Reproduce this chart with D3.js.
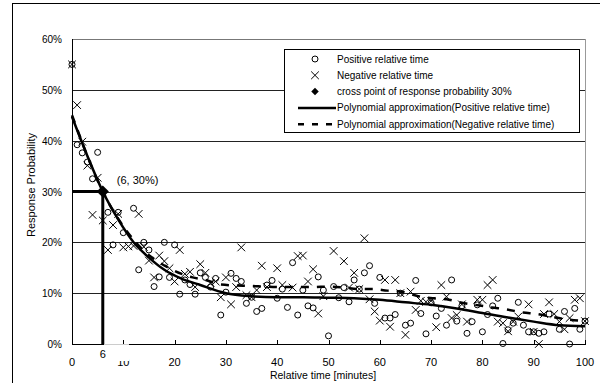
<!DOCTYPE html>
<html>
<head>
<meta charset="utf-8">
<script src="https://cdn.jsdelivr.net/npm/d3@7"></script>
<style>
  body { margin: 0; background: #fff; }
  svg { display: block; font-family: "Liberation Sans", Arial, sans-serif; }
</style>
</head>
<body>
<svg width="600" height="383"></svg>
<script>
// positive relative time (circles): [minutes, %]
let positivos = [
  [0,55],[1,39.2],[2,37.6],[3,35.8],[4,32.5],[5,37.7],[7,25.9],[8,19.5],[9,25.9],[10,21.9],
  [12,26.7],[13,14.6],[14,20.0],[15,18.5],[16,11.3],[17,13.2],[18,20.0],[19,13.1],[20,19.5],
  [21,9.8],[22,12.6],[23,11.7],[24,9.8],[25,14.0],[26,13.1],[27,11.2],[28,12.9],[29,5.7],
  [30,10.2],[31,13.9],[32,12.9],[33,12.3],[34,8.0],[35,9.2],[36,6.4],[37,7.0],[38,11.6],
  [39,12.5],[40,9.0],[41,10.8],[42,7.2],[43,16.0],[44,5.7],[45,10.6],[46,7.5],[47,7.1],
  [48,13.2],[49,10.6],[50,1.6],[51,11.3],[52,9.1],[53,11.1],[54,8.3],[55,12.6],[56,10.8],
  [57,14.0],[58,15.4],[59,8.0],[60,13.1],[61,5.1],[62,5.1],[63,5.8],[64,10.0],[65,3.7],
  [66,4.1],[67,12.5],[68,6.0],[69,2.0],[70,8.1],[71,5.5],[72,7.0],[73,3.7],[74,12.6],
  [75,4.5],[76,7.5],[77,2.1],[78,4.4],[79,7.7],[80,2.4],[81,5.8],[82,7.5],[83,9.0],[84,0.1],
  [85,2.8],[86,4.1],[87,8.2],[88,3.7],[89,2.4],[90,2.4],[91,2.1],[92,2.4],[93,5.9],[95,2.9],
  [96,6.4],[97,0],[98,7.0],[99,2.9],[100,4.5]
];

// negative relative time (crosses)
let negativos = [
  [0,55],[1,47],[2,39.8],[3,35.1],[4,25.4],[5,32.7],[6,24.3],[7,18.5],[8,23.4],[9,25.6],
  [10,19.0],[11,19.2],[12,19.3],[13,25.6],[14,19.1],[15,16.4],[16,13.1],[17,17.4],[18,16.3],
  [19,14.9],[20,12.3],[21,18.5],[22,13.8],[23,14.2],[24,11.2],[25,15.7],[26,14.0],[27,12.0],
  [28,12.3],[29,9.2],[30,13.1],[31,7.8],[32,11.2],[33,19.0],[34,9.6],[35,9.2],[36,10.6],
  [37,15.4],[38,11.2],[40,14.9],[41,11.6],[43,11.1],[44,17.3],[45,17.4],[46,12.3],[47,14.7],
  [48,6.0],[49,9.4],[51,18.3],[53,16.3],[54,11.1],[55,14.0],[56,10.8],[57,20.8],[58,8.8],
  [59,6.4],[60,4.6],[61,12.6],[62,3.4],[63,12.6],[64,10.0],[65,1.8],[66,10.3],[67,6.7],
  [68,8.5],[69,8.3],[70,8.5],[71,3.3],[72,11.6],[73,9.3],[74,5.1],[75,5.7],[76,7.8],[77,4.4],
  [79,8.7],[80,8.7],[81,11.6],[82,12.6],[83,4.4],[84,4.1],[85,2.5],[86,4.4],[87,5.4],[89,7.8],
  [90,2.4],[91,0],[92,5.9],[93,8.2],[94,5.9],[95,4.4],[96,2.9],[97,5.1],[98,8.7],[99,9.0],[100,4.5]
];

// polynomial approximations
let aprox_pos = [
  [0,44.7],[3,37],[6,30],[9,24.5],[12,20],[15,17],[18,14.6],[21,13],[25,11.6],[30,10],
  [35,9.4],[40,9.2],[45,9.2],[50,9.1],[55,9.0],[60,8.7],[65,8.2],[70,7.7],[75,7.0],
  [80,6.1],[85,5.2],[90,4.4],[95,3.7],[100,3.5]
];
let aprox_neg = [
  [0,45],[6,30],[12,20.5],[20,14.4],[23.5,13.1],[26,12.6],[29,11.7],[35,11.4],[41,11.2],
  [47,11.2],[50,11.3],[53,11.1],[56,10.8],[58.6,10.8],[61.5,10.5],[64.3,10.3],[67.5,9.4],
  [70.4,9.0],[73,8.8],[76,8.1],[78.6,7.7],[81.8,7.2],[84.7,6.8],[87.9,6.2],[90.7,5.9],
  [93.7,5.3],[96,4.9],[100,4.5]
];

let ponto_cruz = [6, 30];
let ticks_y = [0, 10, 20, 30, 40, 50, 60];
let ticks_x = [0, 10, 20, 30, 40, 50, 60, 70, 80, 90, 100];

let legenda = [
  "Positive relative time",
  "Negative relative time",
  "cross point of response probability 30%",
  "Polynomial approximation(Positive relative time)",
  "Polynomial approximation(Negative relative time)"
];

let $svg = d3.select("svg");

let x = d3.scaleLinear().domain([0, 100]).range([72, 585]);
let y = d3.scaleLinear().domain([0, 60]).range([344, 39]);

// outer frame
$svg.append("rect")
  .attr("x", 12.5).attr("y", 3.5)
  .attr("width", 620).attr("height", 420)
  .attr("fill", "none").attr("stroke", "#000").attr("stroke-width", 1);

// gridlines
$svg.selectAll("line.grid").data(ticks_y.filter(d => d > 0))
  .enter().append("line").classed("grid", true)
  .attr("x1", x(0)).attr("x2", x(100))
  .attr("y1", d => Math.round(y(d)) + 0.5).attr("y2", d => Math.round(y(d)) + 0.5)
  .attr("stroke", d => d == 60 ? "#777" : "#222");

// right border
$svg.append("line")
  .attr("x1", x(100) + 0.5).attr("x2", x(100) + 0.5)
  .attr("y1", y(60)).attr("y2", y(0))
  .attr("stroke", "#999");

// axes
$svg.append("line")
  .attr("x1", x(0) + 0.5).attr("x2", x(0) + 0.5)
  .attr("y1", y(60)).attr("y2", y(0) + 1)
  .attr("stroke", "#000");
$svg.append("line")
  .attr("x1", x(0)).attr("x2", x(100) + 1)
  .attr("y1", y(0) + 0.5).attr("y2", y(0) + 0.5)
  .attr("stroke", "#000");

$svg.selectAll("line.xtick").data(ticks_x.slice(1))
  .enter().append("line").classed("xtick", true)
  .attr("x1", d => Math.round(x(d)) + 0.5).attr("x2", d => Math.round(x(d)) + 0.5)
  .attr("y1", y(0) - 4).attr("y2", y(0))
  .attr("stroke", "#000");

$svg.selectAll("text.ytick").data(ticks_y)
  .enter().append("text").classed("ytick", true)
  .attr("x", 62).attr("y", d => y(d) + 4)
  .attr("text-anchor", "end")
  .attr("font-size", "10px")
  .text(d => d + "%");

$svg.selectAll("text.xtick").data(ticks_x)
  .enter().append("text").classed("xtick", true)
  .attr("x", d => x(d)).attr("y", 366)
  .attr("text-anchor", "middle")
  .attr("font-size", "11px")
  .text(d => d);

// axis titles
$svg.append("text")
  .attr("transform", "translate(35," + 185 + ") rotate(-90)")
  .attr("text-anchor", "middle")
  .attr("font-size", "11px")
  .text("Response Probability");
$svg.append("text")
  .attr("x", 323).attr("y", 378.5)
  .attr("text-anchor", "middle")
  .attr("font-size", "10.5px")
  .text("Relative time [minutes]");

// scatter: circles
$svg.selectAll("circle.pos").data(positivos)
  .enter().append("circle").classed("pos", true)
  .attr("cx", d => x(d[0])).attr("cy", d => y(d[1]))
  .attr("r", 3)
  .attr("fill", "none").attr("stroke", "#000").attr("stroke-width", 1);

// scatter: crosses
let cruz = d3.symbol().type(d3.symbolX).size(40);
$svg.selectAll("path.neg").data(negativos)
  .enter().append("path").classed("neg", true)
  .attr("transform", d => "translate(" + x(d[0]) + "," + y(d[1]) + ")")
  .attr("d", cruz)
  .attr("fill", "none").attr("stroke", "#000").attr("stroke-width", 1);

// approximation curves
let linha = d3.line()
  .x(d => x(d[0])).y(d => y(d[1]))
  .curve(d3.curveMonotoneX);

$svg.append("path")
  .datum(aprox_neg)
  .attr("d", linha)
  .attr("fill", "none").attr("stroke", "#000").attr("stroke-width", 2.5)
  .attr("stroke-dasharray", "8,8");

$svg.append("path")
  .datum(aprox_pos)
  .attr("d", linha)
  .attr("fill", "none").attr("stroke", "#000").attr("stroke-width", 2.5);

// 30% crossing lines
$svg.append("line")
  .attr("x1", x(0)).attr("x2", x(ponto_cruz[0]))
  .attr("y1", y(ponto_cruz[1])).attr("y2", y(ponto_cruz[1]))
  .attr("stroke", "#000").attr("stroke-width", 3);
$svg.append("line")
  .attr("x1", x(ponto_cruz[0])).attr("x2", x(ponto_cruz[0]))
  .attr("y1", y(ponto_cruz[1])).attr("y2", y(0))
  .attr("stroke", "#000").attr("stroke-width", 3);

// diamond = rotated square
$svg.append("path")
  .attr("transform", "translate(" + x(ponto_cruz[0]) + "," + y(ponto_cruz[1]) + ") rotate(45)")
  .attr("d", d3.symbol().type(d3.symbolSquare).size(75))
  .attr("fill", "#000");

$svg.append("text")
  .attr("x", x(ponto_cruz[0]) + 14).attr("y", y(ponto_cruz[1]) - 8)
  .attr("font-size", "11px")
  .text("(" + ponto_cruz[0] + ", " + ponto_cruz[1] + "%)");

// white box with the "6" label under the axis (hides the top of "10")
$svg.append("rect")
  .attr("x", 94).attr("y", 345)
  .attr("width", 35).attr("height", 16)
  .attr("fill", "#fff");
$svg.append("line")
  .attr("x1", 104).attr("x2", 129)
  .attr("y1", y(0) + 0.5).attr("y2", y(0) + 0.5)
  .attr("stroke", "#ccc");
$svg.append("text")
  .attr("x", x(ponto_cruz[0])).attr("y", 358)
  .attr("text-anchor", "middle")
  .attr("font-size", "11px")
  .text(ponto_cruz[0]);

// legend
let $leg = $svg.append("g");
$leg.append("rect")
  .attr("x", 284.5).attr("y", 49.5)
  .attr("width", 295).attr("height", 83)
  .attr("fill", "#fff").attr("stroke", "#000");

let ly = d => 59 + d * 16.3;

$leg.append("circle")
  .attr("cx", 315).attr("cy", ly(0)).attr("r", 3)
  .attr("fill", "none").attr("stroke", "#000");
$leg.append("path")
  .attr("transform", "translate(315," + ly(1) + ")")
  .attr("d", cruz)
  .attr("fill", "none").attr("stroke", "#000");
$leg.append("path")
  .attr("transform", "translate(315," + ly(2) + ") rotate(45)")
  .attr("d", d3.symbol().type(d3.symbolSquare).size(28))
  .attr("fill", "#000");
$leg.append("line")
  .attr("x1", 298).attr("x2", 336)
  .attr("y1", ly(3)).attr("y2", ly(3))
  .attr("stroke", "#000").attr("stroke-width", 2.5);
$leg.append("line")
  .attr("x1", 298).attr("x2", 336)
  .attr("y1", ly(4)).attr("y2", ly(4))
  .attr("stroke", "#000").attr("stroke-width", 2.5)
  .attr("stroke-dasharray", "6,8");

$leg.selectAll("text").data(legenda)
  .enter().append("text")
  .attr("x", 337).attr("y", (d, i) => ly(i) + 3.5)
  .attr("font-size", "10px")
  .text(d => d);
</script>
</body>
</html>
